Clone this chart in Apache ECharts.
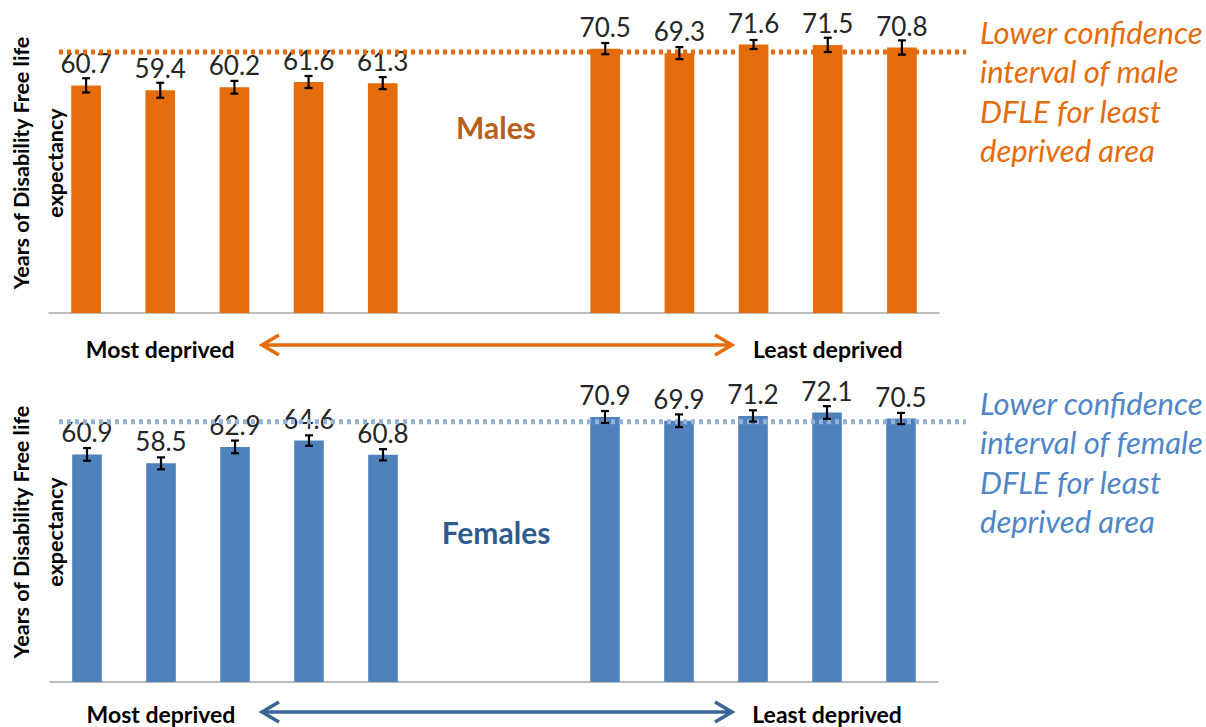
<!DOCTYPE html>
<html><head><meta charset="utf-8">
<script src="https://cdn.jsdelivr.net/npm/echarts@6/dist/echarts.min.js"></script>
<style>html,body{margin:0;padding:0;background:#fff}#c{width:1206px;height:727px}</style>
</head><body><div id="c"></div>
<script>
// ---- data ----
const categories = ['D1','D2','D3','D4','D5','gapA','gapB','D6','D7','D8','D9','D10'];
const axisLabels = ['', 'Most deprived', '', '', '', '', '', '', '', '', 'Least deprived', ''];
const maleValues = [60.7, 59.4, 60.2, 61.6, 61.3, null, null, 70.5, 69.3, 71.6, 71.5, 70.8];
const maleErr    = [1.9, 2.0, 1.7, 1.6, 1.6, null, null, 1.5, 1.6, 1.2, 1.9, 1.9];
const femaleValues = [60.9, 58.5, 62.9, 64.6, 60.8, null, null, 70.9, 69.9, 71.2, 72.1, 70.5];
const femaleErr    = [1.7, 1.6, 1.7, 1.4, 1.5, null, null, 1.6, 1.7, 1.5, 1.7, 1.5];
const maleLowerCI = 69.6;
const femaleLowerCI = 69.6;
const yTitle = 'Years of Disability Free life\nexpectancy';
const maleNote = 'Lower confidence\ninterval of male\nDFLE for least\ndeprived area';
const femaleNote = 'Lower confidence\ninterval of female\nDFLE for least\ndeprived area';

const ORANGE = '#E46C0A', BLUE = '#4F81BD';
const FONT = 'Lato, "Open Sans", sans-serif';

function errData(vals, errs){
  const out = [];
  vals.forEach((v,i)=>{ if(v!=null) out.push([i, v-errs[i], v+errs[i]]); });
  return out;
}
function errRender(params, api){
  const x = api.value(0);
  const lo = api.coord([x, api.value(1)]);
  const hi = api.coord([x, api.value(2)]);
  const w = 4;
  const st = {stroke:'#000', lineWidth:2.2};
  return {type:'group', children:[
    {type:'line', shape:{x1:lo[0], y1:lo[1], x2:hi[0], y2:hi[1]}, style:st},
    {type:'line', shape:{x1:lo[0]-w, y1:lo[1], x2:lo[0]+w, y2:lo[1]}, style:st},
    {type:'line', shape:{x1:hi[0]-w, y1:hi[1], x2:hi[0]+w, y2:hi[1]}, style:st}
  ]};
}
function xAxisCfg(gi, margin){
  return {type:'category', gridIndex:gi, data:categories,
    axisLine:{lineStyle:{color:'#A6A6A6', width:1.5}},
    axisTick:{length:9, lineStyle:{color:'#A6A6A6', width:1.5}},
    axisLabel:{interval:0, margin:margin, formatter:(v,i)=>axisLabels[i], color:'#000', fontFamily:FONT, fontWeight:'bold', fontSize:23}};
}
function yAxisCfg(gi){
  return {type:'value', gridIndex:gi, min:0, max:80,
    axisLine:{show:false}, axisTick:{show:false}, axisLabel:{show:false}, splitLine:{show:false}};
}
function barSeries(gi, vals, color){
  return {type:'bar', xAxisIndex:gi, yAxisIndex:gi, data:vals, barWidth:'40%',
    itemStyle:{color:color},
    label:{show:true, position:'top', distance:9, fontFamily:FONT, fontSize:26, lineHeight:26, color:'#262626'}};
}
function errSeries(gi, vals, errs){
  return {type:'custom', xAxisIndex:gi, yAxisIndex:gi, data:errData(vals, errs),
    encode:{x:0, y:[1,2]}, renderItem:errRender, z:5, silent:true};
}

const chart = echarts.init(document.getElementById('c'), null, {renderer:'svg'});
const option = {
  animation:false,
  backgroundColor:'#fff',
  grid:[
    {left:49, right:267, top:13, height:300},
    {left:50, right:268, top:383, height:299}
  ],
  xAxis:[xAxisCfg(0, 24), xAxisCfg(1, 20)],
  yAxis:[yAxisCfg(0), yAxisCfg(1)],
  title:[
    {text:'Males', left:491, top:107, textAlign:'center', textStyle:{fontFamily:FONT, fontWeight:'bold', fontSize:30, color:'#B8601A'}},
    {text:'Females', left:491, top:512, textAlign:'center', textStyle:{fontFamily:FONT, fontWeight:'bold', fontSize:30, color:'#2F5B8E'}},
    {text:maleNote, left:975, top:7, textStyle:{fontFamily:FONT, fontStyle:'italic', fontWeight:'normal', fontSize:31, lineHeight:39.5, color:ORANGE}},
    {text:femaleNote, left:975, top:378, textStyle:{fontFamily:FONT, fontStyle:'italic', fontWeight:'normal', fontSize:31, lineHeight:39.5, color:'#4F86C6'}}
  ],
  series:[
    barSeries(0, maleValues, ORANGE),
    errSeries(0, maleValues, maleErr),
    barSeries(1, femaleValues, BLUE),
    errSeries(1, femaleValues, femaleErr)
  ]
};
chart.setOption(option);

function arrow(y, x1, x2, color){
  const s = {stroke:color, lineWidth:3.5, fill:null};
  return [
    {type:'line', shape:{x1:x1+2, y1:y, x2:x2-2, y2:y}, style:s, z:10},
    {type:'polyline', shape:{points:[[x1+17,y-10],[x1,y],[x1+17,y+10]]}, style:s, z:10},
    {type:'polyline', shape:{points:[[x2-17,y-10],[x2,y],[x2-17,y+10]]}, style:s, z:10}
  ];
}
function yTitleText(cy){
  return {type:'text', x:38, y:cy, rotation:Math.PI/2, z:10,
    style:{text:yTitle, fontFamily:FONT, fontWeight:'bold', fontSize:21.5, lineHeight:34,
      fill:'#000', align:'center', verticalAlign:'middle'}};
}
const yM = chart.convertToPixel({yAxisIndex:0}, maleLowerCI);
const yF = chart.convertToPixel({yAxisIndex:1}, femaleLowerCI);
chart.setOption({graphic:[
  {type:'line', shape:{x1:59, y1:yM, x2:966, y2:yM}, style:{stroke:ORANGE, lineWidth:5, lineDash:[4,4]}, z:4},
  {type:'line', shape:{x1:59, y1:yF, x2:966, y2:yF}, style:{stroke:'#95B3D7', lineWidth:5, lineDash:[4,4]}, z:4},
  ...arrow(345, 262, 732, ORANGE),
  ...arrow(712, 262, 732, '#3B6496'),
  yTitleText(163),
  yTitleText(532)
]});
</script></body></html>
